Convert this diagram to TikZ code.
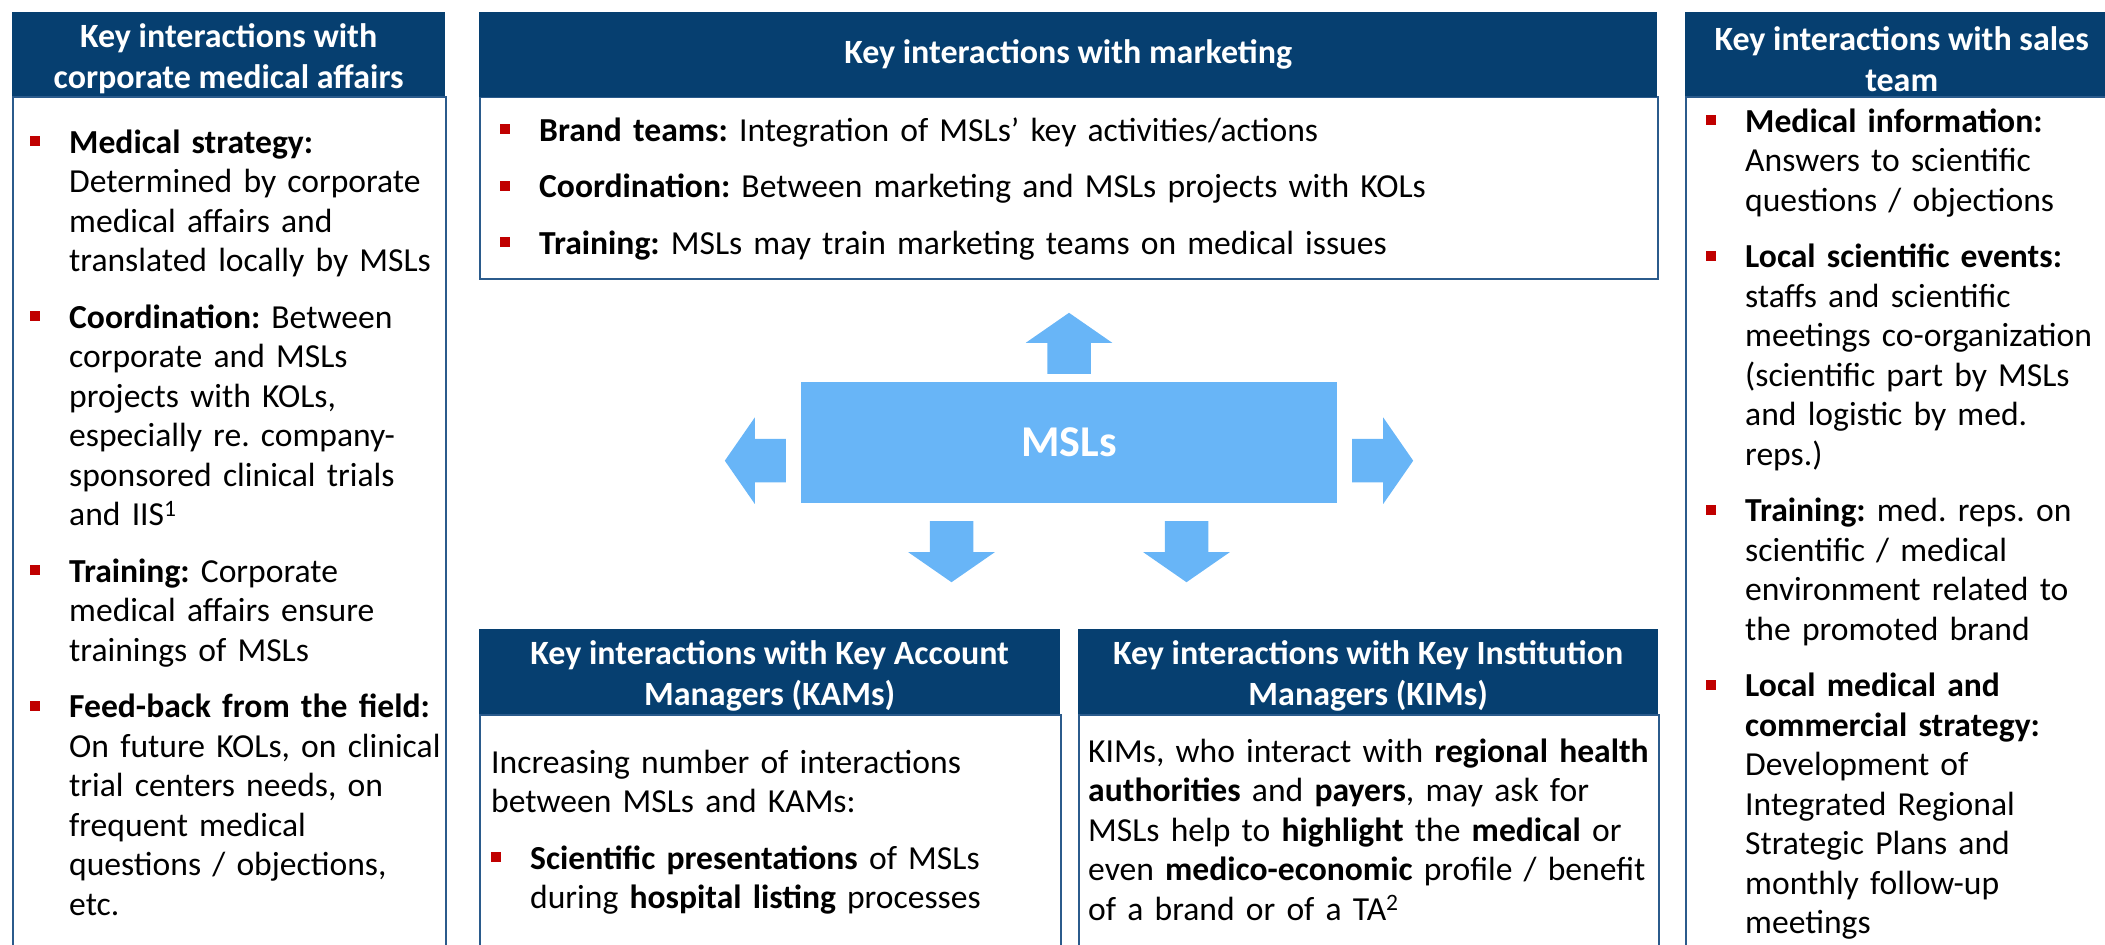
\documentclass[tikz,border=0pt]{standalone}
\usepackage{fontspec}
\setmainfont{Carlito}
\usetikzlibrary{calc}
\definecolor{navy}{HTML}{063F70}
\definecolor{frameblue}{HTML}{2B5B8C}
\definecolor{mslblue}{HTML}{68B5F7}
\definecolor{bulletred}{HTML}{C00000}
\newcommand{\figfont}{\fontsize{33.6}{39.5}\selectfont}
\newcommand{\headfont}{\fontsize{34}{41}\selectfont\bfseries}
% red square bullet, text hung 39pt to the right of it
\newcommand{\bitem}[1]{\noindent\hangindent=39pt\hangafter=1%
  \makebox[39pt][l]{\textcolor{bulletred}{\rule[7pt]{10pt}{10pt}}}#1\par}
\tikzset{
  colhead/.style  = {fill=navy, inner sep=0pt, anchor=north west},
  headtext/.style = {text=white, font=\headfont, align=center, inner sep=0pt},
  colframe/.style = {draw=frameblue, line width=1.8pt, inner sep=0pt, anchor=north west},
  colbody/.style  = {font=\figfont, align=left, inner sep=0pt, anchor=base west, text width=#1pt,
                     execute at begin node={\setlength{\parskip}{17pt}\frenchspacing
                                            \hyphenpenalty=10000\exhyphenpenalty=10000}},
  blockarrow/.pic = {\fill[mslblue] (-21.75,0) -- (21.75,0) -- (21.75,31) -- (43.25,31) -- (0,61)
                     -- (-43.25,31) -- (-21.75,31) -- cycle;},
}

\begin{document}
\begin{tikzpicture}[x=1pt, y=-1pt]
  \useasboundingbox (0,0) rectangle (2105,945);

  % frames first; the side and bottom columns run off the page
  \node[colframe, minimum width=433pt, minimum height=880pt] (corpframe) at (12,96) {};
  \node[colframe, minimum width=1178pt, minimum height=182pt] (mktframe) at (479,96) {};
  \node[colframe, minimum width=433pt, minimum height=880pt] (salesframe) at (1685,96) {};
  \node[colframe, minimum width=581pt, minimum height=300pt] (kamframe) at (479,714) {};
  \node[colframe, minimum width=580pt, minimum height=300pt] (kimframe) at (1078,714) {};

  % header bars, then their titles (two-line titles sit a little low)
  \node[colhead, minimum width=433pt, minimum height=84pt] (corphead) at (12,12) {};
  \node[colhead, minimum width=1178pt, minimum height=85pt] (mkthead) at (479,12) {};
  \node[colhead, minimum width=433pt, minimum height=84pt] (saleshead) at (1685,12) {};
  \node[colhead, minimum width=581pt, minimum height=85pt] (kamhead) at (479,629) {};
  \node[colhead, minimum width=580pt, minimum height=85pt] (kimhead) at (1078,629) {};
  \node[headtext] (corptitle) at ($(corphead.center)+(0,5)$) {Key interactions with\\corporate medical affairs};
  \node[headtext] (mkttitle) at (mkthead.center) {Key interactions with marketing};
  \node[headtext] (salestitle) at ($(saleshead.center)+(0,5)$) {Key interactions with sales\\team};
  \node[headtext] (kamtitle) at ($(kamhead.center)+(0,4)$) {Key interactions with Key Account\\Managers (KAMs)};
  \node[headtext] (kimtitle) at ($(kimhead.center)+(0,4)$) {Key interactions with Key Institution\\Managers (KIMs)};

  % the MSLs block and its five arrows
  \node[fill=mslblue, text=white, font=\fontsize{44}{50}\selectfont\bfseries,
        minimum width=536pt, minimum height=121pt, inner sep=0pt] (msl) at (1069,442.5) {MSLs};
  \pic[rotate=180] at ($(msl.north)+(0,-8)$) {blockarrow};
  \pic[rotate=-90] at ($(msl.south west)+(-15,-42.5)$) {blockarrow};
  \pic[rotate=90]  at ($(msl.south east)+(15,-42.5)$) {blockarrow};
  \pic at ($(msl.south)+(-117.5,18)$) {blockarrow};
  \pic at ($(msl.south)+(117.5,18)$) {blockarrow};

  % column texts
  \node[colbody=440] (corptext) at (30,153) {%
    \bitem{\textbf{Medical strategy:}\newline Determined by corporate\newline medical affairs and\newline translated locally by MSLs}
    \bitem{\textbf{Coordination:} Between\newline corporate and MSLs\newline projects with KOLs,\newline especially re. company-\newline sponsored clinical trials\newline and IIS\textsuperscript{1}}
    \bitem{\textbf{Training:} Corporate\newline medical affairs ensure\newline trainings of MSLs}
    \bitem{\textbf{Feed-back from the field:}\newline On future KOLs, on clinical\newline trial centers needs, on\newline frequent medical\newline questions / objections,\newline etc.}};

  \node[colbody=1140] (mkttext) at (500,141) {%
    \bitem{\textbf{Brand teams:} Integration of MSLs’ key activities/actions}
    \bitem{\textbf{Coordination:} Between marketing and MSLs projects with KOLs}
    \bitem{\textbf{Training:} MSLs may train marketing teams on medical issues}};

  \node[colbody=440] (salestext) at (1706,132) {%
    \bitem{\textbf{Medical information:}\newline Answers to scientific\newline questions / objections}
    \bitem{\textbf{Local scientific events:}\newline staffs and scientific\newline meetings co-organization\newline (scientific part by MSLs\newline and logistic by med.\newline reps.)}
    \bitem{\textbf{Training:} med. reps. on\newline scientific / medical\newline environment related to\newline the promoted brand}
    \bitem{\textbf{Local medical and\newline commercial strategy:}\newline Development of\newline Integrated Regional\newline Strategic Plans and\newline monthly follow-up\newline meetings}};

  \node[colbody=600] (kamtext) at (491,773) {%
    Increasing number of interactions\newline between MSLs and KAMs:\par
    \bitem{\textbf{Scientific presentations} of MSLs\newline during \textbf{hospital listing} processes}};

  \node[colbody=620] (kimtext) at (1088,762) {%
    KIMs, who interact with \textbf{regional health}\newline
    \textbf{authorities} and \textbf{payers}, may ask for\newline
    MSLs help to \textbf{highlight} the \textbf{medical} or\newline
    even \textbf{medico-economic} profile / benefit\newline
    of a brand or of a TA\textsuperscript{2}};
\end{tikzpicture}
\end{document}
